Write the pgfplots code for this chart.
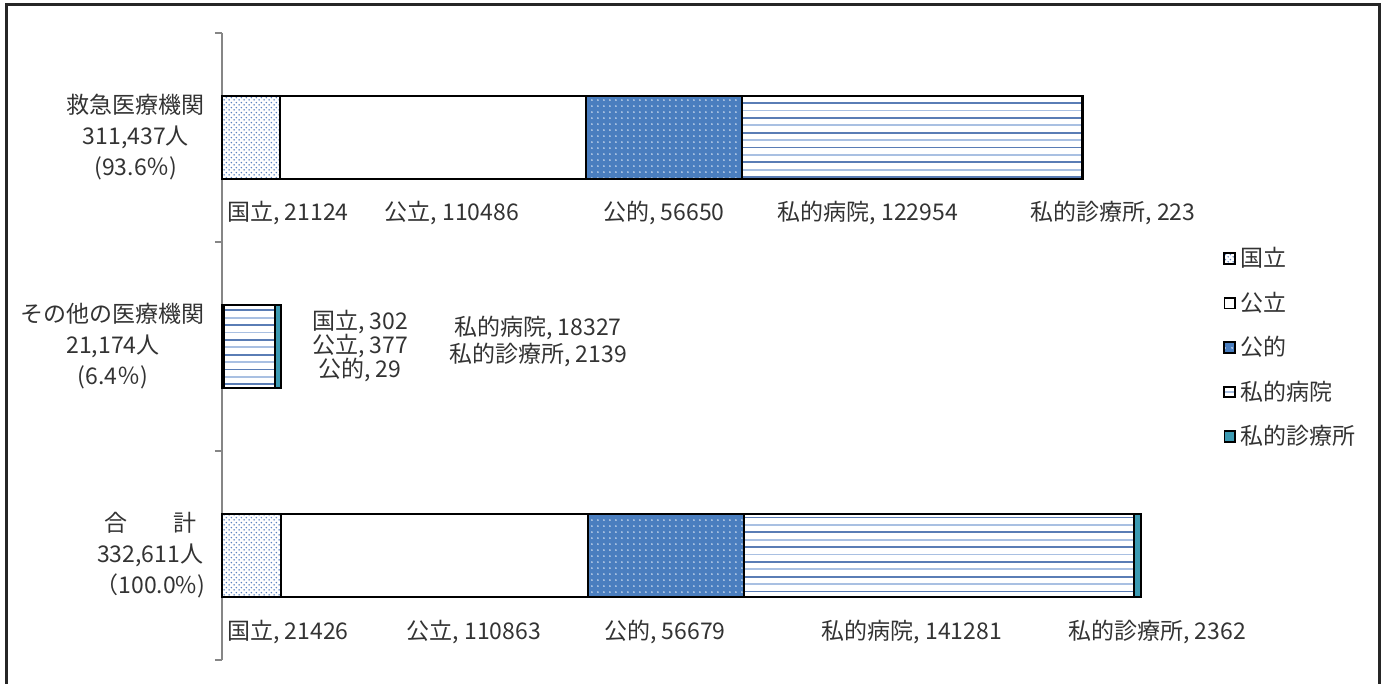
\documentclass[border=0pt]{standalone}
\usepackage{fontspec}
\setmainfont{Noto Sans CJK JP}
\usepackage{pgfplots}
\pgfplotsset{compat=1.18}
\usetikzlibrary{patterns}

\definecolor{txt}{HTML}{333333}
\definecolor{axisgray}{HTML}{868686}
\definecolor{dotblue}{HTML}{5B82C0}
\definecolor{pubblue}{HTML}{4A7EBF}
\definecolor{linedark}{HTML}{5A7DB5}
\definecolor{linelight}{HTML}{A9C0E2}
\definecolor{clinic}{HTML}{3C9AB2}

% fine dots for 国立
\pgfdeclarepatternformonly{finedots}{\pgfpointorigin}{\pgfpoint{2.6pt}{2.6pt}}{\pgfpoint{2.6pt}{2.6pt}}{%
  \pgfpathcircle{\pgfpoint{0.65pt}{0.65pt}}{0.45pt}%
  \pgfpathcircle{\pgfpoint{1.95pt}{1.95pt}}{0.45pt}%
  \pgfusepath{fill}}
% white dots for 公的
\pgfdeclarepatternformonly{sparsedots}{\pgfpointorigin}{\pgfpoint{3.2pt}{3.2pt}}{\pgfpoint{3.2pt}{3.2pt}}{%
  \pgfpathcircle{\pgfpoint{1.6pt}{1.6pt}}{0.42pt}%
  \pgfusepath{fill}}
% horizontal lines for 私的病院, two offsets
\pgfdeclarepatternformonly{hlinesA}{\pgfpoint{-1pt}{0pt}}{\pgfpoint{4pt}{7.4pt}}{\pgfpoint{3pt}{7.4pt}}{%
  \pgfsetlinewidth{0.9pt}%
  \pgfpathmoveto{\pgfpoint{-1pt}{1.85pt}}\pgfpathlineto{\pgfpoint{4pt}{1.85pt}}%
  \pgfusepath{stroke}}
\pgfdeclarepatternformonly{hlinesB}{\pgfpoint{-1pt}{0pt}}{\pgfpoint{4pt}{7.4pt}}{\pgfpoint{3pt}{7.4pt}}{%
  \pgfsetlinewidth{0.9pt}%
  \pgfpathmoveto{\pgfpoint{-1pt}{5.55pt}}\pgfpathlineto{\pgfpoint{4pt}{5.55pt}}%
  \pgfusepath{stroke}}

\tikzset{lbl/.style={text=txt, font=\fontsize{11.5}{13}\selectfont}}

\begin{document}
\begin{tikzpicture}
\begin{axis}[
    at={(111pt,12pt)}, anchor=south west,
    scale only axis,
    width=459.5pt, height=313.5pt,
    xbar stacked,
    bar width=0.4,
    xmin=0, xmax=332611,
    ymin=-0.5, ymax=2.5,
    y dir=reverse,
    axis x line=none,
    axis y line*=left,
    axis line style={draw=axisgray, line width=0.8pt},
    ytick={0,1,2},
    yticklabels={{救急医療機関\\311,437人\\(93.6％)},
                 {その他の医療機関\\21,174人\\(6.4％)},
                 {合　　計\\332,611人\\（100.0\%)}},
    yticklabel style={align=center, text=txt, font=\fontsize{11.5}{15.5}\selectfont, xshift=-5pt},
    major tick length=0pt,
    minor ytick={-0.5,0.5,1.5,2.5},
    minor tick length=3.5pt,
    tick align=outside,
    every minor tick/.append style={draw=axisgray, line width=0.8pt},
    clip=false,
    legend image code/.code={\draw[#1, line width=0.8pt] (0pt,-2.7pt) rectangle (5.4pt,2.7pt);},
    legend style={at={(1.083,0.671)}, anchor=north west, draw=none, fill=none,
        row sep=7pt, text=txt, font=\fontsize{11.5}{13}\selectfont},
    legend cell align=left,
]
% 国立
\addplot[draw=black, line width=1pt, preaction={fill=white},
    pattern=finedots, pattern color=dotblue]
    coordinates {(21124,0) (302,1) (21426,2)};
\addlegendentry{国立}
% 公立
\addplot[draw=black, line width=1pt, fill=white]
    coordinates {(110486,0) (377,1) (110863,2)};
\addlegendentry{公立}
% 公的
\addplot[draw=black, line width=1pt, preaction={fill=pubblue},
    pattern=sparsedots, pattern color=white]
    coordinates {(56650,0) (29,1) (56679,2)};
\addlegendentry{公的}
% 私的病院
\addplot[draw=black, line width=1pt,
    preaction={fill=white},
    preaction={pattern=hlinesB, pattern color=linelight},
    pattern=hlinesA, pattern color=linedark]
    coordinates {(122954,0) (18327,1) (141281,2)};
\addlegendentry{私的病院}
% 私的診療所
\addplot[draw=black, line width=1pt, fill=clinic]
    coordinates {(223,0) (2139,1) (2362,2)};
\addlegendentry{私的診療所}

\node[lbl] at (axis cs:23887,0.36) {国立, 21124};
\node[lbl] at (axis cs:83243,0.36) {公立, 110486};
\node[lbl] at (axis cs:159970,0.36) {公的, 56650};
\node[lbl] at (axis cs:233800,0.36) {私的病院, 122954};
\node[lbl] at (axis cs:322475,0.36) {私的診療所, 223};

\node[lbl] at (axis cs:49946,0.883) {国立, 302};
\node[lbl] at (axis cs:49946,1.0) {公立, 377};
\node[lbl] at (axis cs:49946,1.112) {公的, 29};
\node[lbl] at (axis cs:114368,0.912) {私的病院, 18327};
\node[lbl] at (axis cs:114368,1.04) {私的診療所, 2139};

\node[lbl] at (axis cs:23887,2.364) {国立, 21426};
\node[lbl] at (axis cs:91205,2.364) {公立, 110863};
\node[lbl] at (axis cs:160333,2.364) {公的, 56679};
\node[lbl] at (axis cs:249729,2.364) {私的病院, 141281};
\node[lbl] at (axis cs:338400,2.364) {私的診療所, 2362};
\end{axis}
\draw[line width=1.5pt, black!85] (3pt,-5pt) -- (3pt,339.5pt) -- (689.5pt,339.5pt) -- (689.5pt,-5pt);
\pgfresetboundingbox
\path[use as bounding box] (0,0) rectangle (694.5pt,342pt);
\end{tikzpicture}
\end{document}
